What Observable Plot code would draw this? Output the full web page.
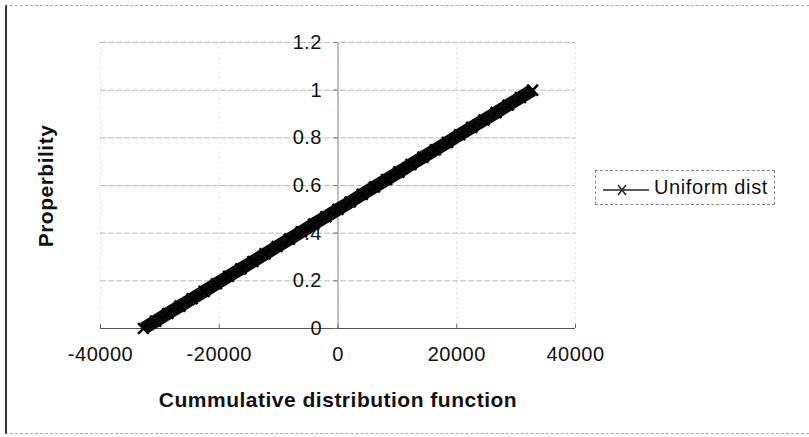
<!DOCTYPE html>
<html>
<head>
<meta charset="utf-8">
<script src="https://cdn.jsdelivr.net/npm/d3@7"></script>
<script src="https://cdn.jsdelivr.net/npm/@observablehq/plot@0.6"></script>
<style>
  html, body { margin: 0; padding: 0; background: #fff; }
  #wrap { position: relative; width: 809px; height: 437px; font-family: "Liberation Sans", Arial, sans-serif; color: #111; }
  #frame { position: absolute; left: 5px; top: 5px; width: 804px; height: 429px;
           border-left: 2px solid #333; border-top: 1px dashed #aaa; border-bottom: 1px dashed #aaa; box-sizing: border-box; }
  #wrap svg text { letter-spacing: 0.5px; }
  .ttl { position: absolute; font-weight: bold; font-size: 21px; letter-spacing: 0.5px; white-space: nowrap; }
  #xtitle { left: 338px; top: 400px; transform: translate(-50%, -50%); }
  #ytitle { left: 46px; top: 186px; transform: translate(-50%, -50%) rotate(-90deg); }
  #legend { position: absolute; left: 595px; top: 170px; width: 180px; height: 35px; box-sizing: border-box;
            border: 1px dashed #888; display: flex; align-items: center; font-size: 20px; letter-spacing: 0.6px; }
  #legend svg { margin-left: 7px; margin-right: 3px; }
</style>
</head>
<body>
<div id="wrap">
  <div id="frame"></div>
  <div id="chart"></div>
  <div class="ttl" id="xtitle">Cummulative distribution function</div>
  <div class="ttl" id="ytitle">Properbility</div>
  <div id="legend">
    <svg width="48" height="20">
      <line x1="0" y1="12" x2="46" y2="12" stroke="#222" stroke-width="1.5"></line>
      <path d="M15,7 L23,17 M23,7 L15,17" stroke="#222" stroke-width="1.5" fill="none"></path>
    </svg>
    <span>Uniform dist</span>
  </div>
</div>
<script>
// Uniform distribution: value vs. cumulative probability
const seriesName = "Uniform dist";
const values = [-32768, -30720, -28672, -26624, -24576, -22528, -20480, -18432, -16384, -14336,
                -12288, -10240, -8192, -6144, -4096, -2048, 0, 2048, 4096, 6144, 8192, 10240,
                12288, 14336, 16384, 18432, 20480, 22528, 24576, 26624, 28672, 30720, 32767];
const probs = [0, 0.031, 0.063, 0.094, 0.125, 0.156, 0.188, 0.219, 0.25, 0.281,
               0.313, 0.344, 0.375, 0.406, 0.438, 0.469, 0.5, 0.531, 0.563, 0.594, 0.625, 0.656,
               0.688, 0.719, 0.75, 0.781, 0.813, 0.844, 0.875, 0.906, 0.938, 0.969, 1];
const xTicks = [-40000, -20000, 0, 20000, 40000];
const yTicks = [0, 0.2, 0.4, 0.6, 0.8, 1, 1.2];

const points = values.map((v, i) => ({x: v, y: probs[i]}));

const W = 809, H = 437;
const mL = 100, mR = 234, mT = 42, mB = 109;
const xDomain = [xTicks[0], xTicks[xTicks.length - 1]];
const zeroOffset = (0 - xDomain[0]) / (xDomain[1] - xDomain[0]) * (W - mL - mR);

const chart = Plot.plot({
  width: W, height: H,
  marginLeft: mL, marginRight: mR, marginTop: mT, marginBottom: mB,
  style: {fontFamily: "'Liberation Sans', Arial, sans-serif", fontSize: "20px", background: "transparent", color: "#111"},
  x: {domain: xDomain},
  y: {domain: [yTicks[0], yTicks[yTicks.length - 1]]},
  marks: [
    Plot.gridX(xTicks, {stroke: "#aaa", strokeOpacity: 0.35, strokeDasharray: "2,3"}),
    Plot.gridY(yTicks.slice(1), {stroke: "#888", strokeOpacity: 0.6, strokeDasharray: "6,2"}),
    Plot.ruleY([0], {stroke: "#555", strokeWidth: 1.2}),
    Plot.ruleX([0], {stroke: "#888"}),
    Plot.axisX(xTicks, {anchor: "bottom", tickSize: -4, tickPadding: 22, fontSize: 20, tickFormat: d => String(d), label: null, stroke: "#666"}),
    Plot.axisY(yTicks, {anchor: "left", dx: zeroOffset, tickSize: 4, tickPadding: 12, fontSize: 20, tickFormat: d => String(d), label: null, stroke: "#777"}),
    Plot.line(points, {x: "x", y: "y", stroke: "#0a0a0a", strokeWidth: 13, strokeLinecap: "butt"}),
    Plot.dot(points, {x: "x", y: "y", symbol: "times", r: 5, stroke: "#000", strokeWidth: 2.5})
  ]
});
document.getElementById("chart").appendChild(chart);
</script>
</body>
</html>
